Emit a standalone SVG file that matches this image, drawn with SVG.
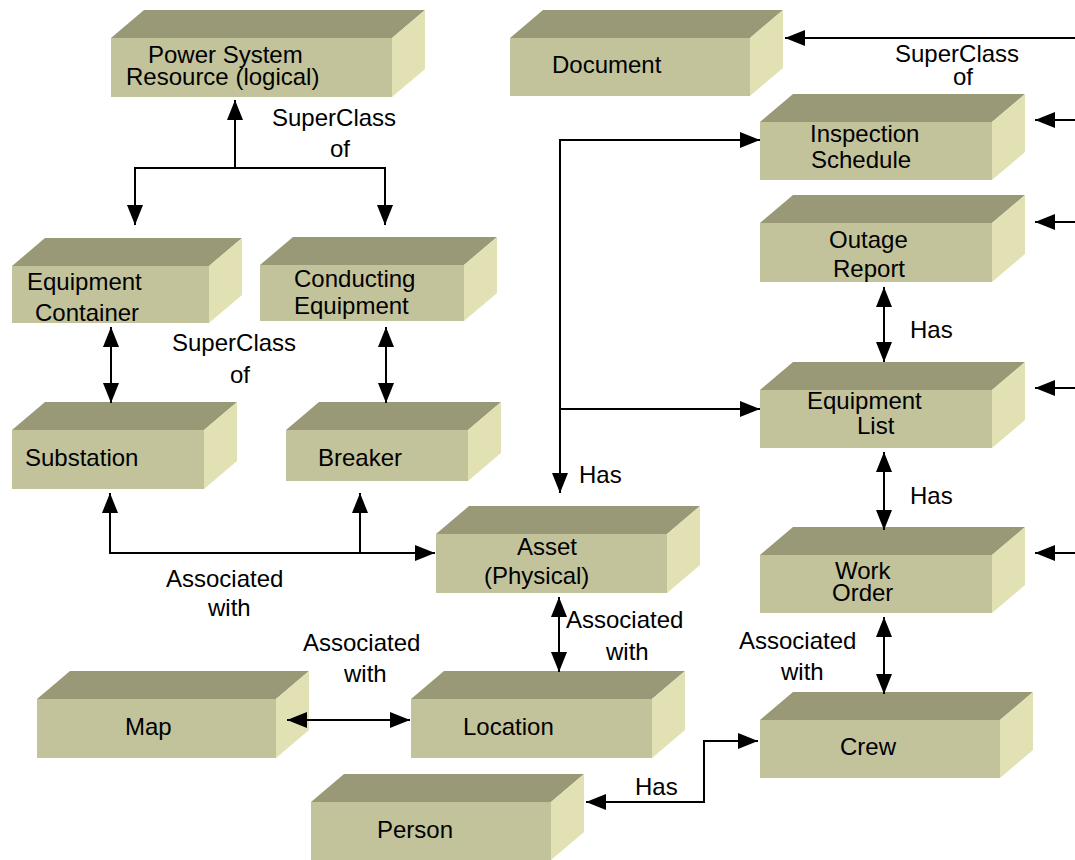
<svg xmlns="http://www.w3.org/2000/svg" width="1075" height="860" viewBox="0 0 1075 860">
<style>
.top{fill:#999977}
.front{fill:#C3C39B}
.side{fill:#E1E1B3}
text{font-family:"Liberation Sans",Arial,sans-serif;font-size:24px;fill:#000}
.c path{fill:none;stroke:#000;stroke-width:2}
</style>
<defs>
<marker id="ah" markerUnits="userSpaceOnUse" markerWidth="22" markerHeight="18" refX="20" refY="8" orient="auto-start-reverse" viewBox="0 0 22 18">
<path d="M0,0 L20,8 L0,16 z" fill="#000"/>
</marker>
</defs>
<rect width="1075" height="860" fill="#fff"/>

<g id="psr">
<polygon class="top" points="111,38 144,10 425,10 392,38"/>
<polygon class="side" points="392,38 425,10 425,69 392,97"/>
<rect class="front" x="111" y="38" width="281" height="59"/>
<text x="148" y="63">Power System</text>
<text x="126" y="85">Resource (logical)</text>
</g>

<g id="document">
<polygon class="top" points="510,38 543,10 783,10 750,38"/>
<polygon class="side" points="750,38 783,10 783,68 750,96"/>
<rect class="front" x="510" y="38" width="240" height="58"/>
<text x="552" y="73">Document</text>
</g>

<g id="inspection">
<polygon class="top" points="760,122 793,94 1025,94 992,122"/>
<polygon class="side" points="992,122 1025,94 1025,152 992,180"/>
<rect class="front" x="760" y="122" width="232" height="58"/>
<text x="810" y="142">Inspection</text>
<text x="811" y="168">Schedule</text>
</g>

<g id="outage">
<polygon class="top" points="760,223 793,195 1025,195 992,223"/>
<polygon class="side" points="992,223 1025,195 1025,254 992,282"/>
<rect class="front" x="760" y="223" width="232" height="59"/>
<text x="829" y="248">Outage</text>
<text x="833" y="277">Report</text>
</g>

<g id="eqlist">
<polygon class="top" points="760,390 793,362 1025,362 992,390"/>
<polygon class="side" points="992,390 1025,362 1025,420 992,448"/>
<rect class="front" x="760" y="390" width="232" height="58"/>
<text x="807" y="409">Equipment</text>
<text x="857" y="434">List</text>
</g>

<g id="workorder">
<polygon class="top" points="760,555 793,527 1025,527 992,555"/>
<polygon class="side" points="992,555 1025,527 1025,585 992,613"/>
<rect class="front" x="760" y="555" width="232" height="58"/>
<text x="835" y="579">Work</text>
<text x="832" y="601">Order</text>
</g>

<g id="crew">
<polygon class="top" points="760,720 793,692 1033,692 1000,720"/>
<polygon class="side" points="1000,720 1033,692 1033,750 1000,778"/>
<rect class="front" x="760" y="720" width="240" height="58"/>
<text x="840" y="755">Crew</text>
</g>

<g id="eqcontainer">
<polygon class="top" points="12,266 45,238 242,238 209,266"/>
<polygon class="side" points="209,266 242,238 242,295 209,323"/>
<rect class="front" x="12" y="266" width="197" height="57"/>
<text x="27" y="290">Equipment</text>
<text x="35" y="321">Container</text>
</g>

<g id="conducting">
<polygon class="top" points="260,265 293,237 497,237 464,265"/>
<polygon class="side" points="464,265 497,237 497,293 464,321"/>
<rect class="front" x="260" y="265" width="204" height="56"/>
<text x="294" y="287">Conducting</text>
<text x="294" y="314">Equipment</text>
</g>

<g id="substation">
<polygon class="top" points="12,430 45,402 237,402 204,430"/>
<polygon class="side" points="204,430 237,402 237,461 204,489"/>
<rect class="front" x="12" y="430" width="192" height="59"/>
<text x="25" y="466">Substation</text>
</g>

<g id="breaker">
<polygon class="top" points="286,430 319,402 501,402 468,430"/>
<polygon class="side" points="468,430 501,402 501,453 468,481"/>
<rect class="front" x="286" y="430" width="182" height="51"/>
<text x="318" y="466">Breaker</text>
</g>

<g id="asset">
<polygon class="top" points="436,534 469,506 700,506 667,534"/>
<polygon class="side" points="667,534 700,506 700,565 667,593"/>
<rect class="front" x="436" y="534" width="231" height="59"/>
<text x="517" y="555">Asset</text>
<text x="484" y="584">(Physical)</text>
</g>

<g id="map">
<polygon class="top" points="37,699 70,671 309,671 276,699"/>
<polygon class="side" points="276,699 309,671 309,730 276,758"/>
<rect class="front" x="37" y="699" width="239" height="59"/>
<text x="125" y="735">Map</text>
</g>

<g id="location">
<polygon class="top" points="411,699 444,671 685,671 652,699"/>
<polygon class="side" points="652,699 685,671 685,730 652,758"/>
<rect class="front" x="411" y="699" width="241" height="59"/>
<text x="463" y="735">Location</text>
</g>

<g id="person">
<polygon class="top" points="311,802 344,774 584,774 551,802"/>
<polygon class="side" points="551,802 584,774 584,832 551,860"/>
<rect class="front" x="311" y="802" width="240" height="58"/>
<text x="377" y="838">Person</text>
</g>

<g id="connectors" class="c">
<path d="M1075,38 H785" marker-end="url(#ah)"/>
<path d="M1075,120 H1035" marker-end="url(#ah)"/>
<path d="M1075,222 H1035" marker-end="url(#ah)"/>
<path d="M1075,388 H1035" marker-end="url(#ah)"/>
<path d="M1075,553 H1035" marker-end="url(#ah)"/>
<path d="M235,168 V100" marker-end="url(#ah)"/>
<path d="M135,225 V168 H385 V225" marker-start="url(#ah)" marker-end="url(#ah)"/>
<path d="M111,327 V403" marker-start="url(#ah)" marker-end="url(#ah)"/>
<path d="M386,327 V403" marker-start="url(#ah)" marker-end="url(#ah)"/>
<path d="M110,493 V553 H435" marker-start="url(#ah)" marker-end="url(#ah)"/>
<path d="M360,553 V493" marker-end="url(#ah)"/>
<path d="M287,720 H410" marker-start="url(#ah)" marker-end="url(#ah)"/>
<path d="M559,597 V672" marker-start="url(#ah)" marker-end="url(#ah)"/>
<path d="M760,140 H560 V493" marker-start="url(#ah)" marker-end="url(#ah)"/>
<path d="M560,409 H760" marker-end="url(#ah)"/>
<path d="M884,287 V362" marker-start="url(#ah)" marker-end="url(#ah)"/>
<path d="M884,452 V530" marker-start="url(#ah)" marker-end="url(#ah)"/>
<path d="M884,617 V694" marker-start="url(#ah)" marker-end="url(#ah)"/>
<path d="M758,741 H704 V802 H586" marker-start="url(#ah)" marker-end="url(#ah)"/>
</g>

<g id="labels">
<text x="895" y="62">SuperClass</text>
<text x="953" y="85">of</text>
<text x="272" y="126">SuperClass</text>
<text x="330" y="157">of</text>
<text x="172" y="351">SuperClass</text>
<text x="230" y="383">of</text>
<text x="910" y="338">Has</text>
<text x="579" y="483">Has</text>
<text x="910" y="504">Has</text>
<text x="166" y="587">Associated</text>
<text x="208" y="616">with</text>
<text x="566" y="628">Associated</text>
<text x="606" y="660">with</text>
<text x="303" y="651">Associated</text>
<text x="344" y="682">with</text>
<text x="739" y="649">Associated</text>
<text x="781" y="680">with</text>
<text x="635" y="795">Has</text>
</g>
</svg>
